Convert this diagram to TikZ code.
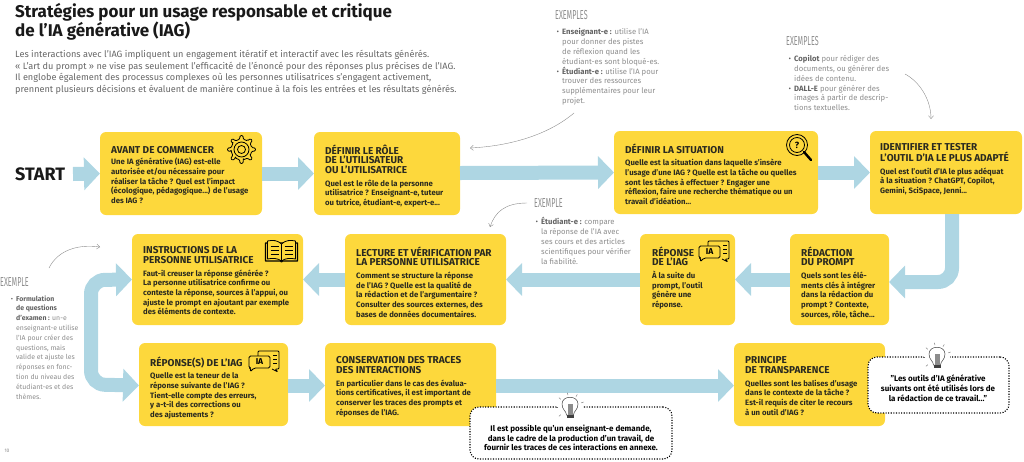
\documentclass[tikz,border=0pt]{standalone}
\usepackage{fontspec}
\setmainfont{Fira Sans}
\usetikzlibrary{arrows.meta}
\definecolor{stepyellow}{HTML}{FDD83C}
\definecolor{flowblue}{HTML}{AED6E3}
\definecolor{noteink}{HTML}{8C8C8C}
\definecolor{stepink}{HTML}{2A2A20}
\newcommand{\hd}[1]{{\fontsize{10}{9.7}\selectfont #1}}
\newcommand{\noteb}{\llap{\textcolor{noteink!70!black}{\textbullet}\hspace{3pt}}}
\newcommand{\notehd}[1]{\scalebox{.55}[1]{\fontsize{13}{13}\selectfont #1}}
\tikzset{
    stepbox/.style={fill=stepyellow, rounded corners=6pt, inner sep=0, outer sep=0},
    steptext/.style={anchor=north west, inner sep=0, align=left, text=stepink,
        font=\fontsize{7.75}{9.7}\selectfont\bfseries,
        execute at begin node={\rule{0pt}{7.4pt}}},
    flowline/.style={draw=flowblue, line width=14pt, rounded corners=14pt,
        -{Triangle[length=16pt,width=32pt]}},
    noteline/.style={draw=noteink, line width=.4pt, -{Straight Barb[length=3pt,width=5pt]}},
    notetext/.style={anchor=north west, inner sep=0, align=left, text=noteink,
        font=\fontsize{7.7}{9.8}\selectfont,
        execute at begin node={\rule{0pt}{7pt}}},
    calloutbox/.style={draw=black, fill=white, line width=1.1pt, dash pattern=on 1.1pt off 1.5pt,
        rounded corners=9pt, inner sep=0, outer sep=0},
    callouttext/.style={inner sep=0, align=center, text=black,
        font=\fontsize{8}{9.8}\selectfont\bfseries},
    iconline/.style={draw=black, line width=.8pt, line join=round},
    gearicon/.pic={
        \draw[iconline, rounded corners=1pt] (-10:10.5) \foreach \a in {0,45,...,315} {
            -- ({\a-10}:10.5) -- ({\a-6}:14) -- ({\a+6}:14) -- ({\a+10}:10.5) -- ({\a+35}:10.5)} -- cycle;
        \draw[iconline] (0,0) circle (7.5) (0,0) circle (4);
    },
    lensicon/.pic={
        \draw[line width=2.4pt, line cap=round] (7,7) -- (14,15);
        \draw[iconline] (0,0) circle (10.5) (0,0) circle (7.5);
        \node[inner sep=0, font=\fontsize{9}{9}\selectfont\bfseries] (-lensmark) at (0,0) {?};
    },
    bookicon/.pic={
        \draw[iconline, line width=1.3pt, fill=stepyellow] (-16,-8) -- (-16,10) -- (-1,10) -- (0,11) -- (1,10) -- (16,10) -- (16,-8) -- cycle;
        \draw[iconline, fill=stepyellow] (0,-7) .. controls (-4,-11) and (-9,-11) .. (-14,-10) -- (-14,8) .. controls (-9,7) and (-4,7) .. (0,10);
        \draw[iconline, fill=stepyellow] (0,-7) .. controls (4,-11) and (9,-11) .. (14,-10) -- (14,8) .. controls (9,7) and (4,7) .. (0,10) -- cycle;
        \foreach \y in {-5,-1,3} {
            \draw[line width=.6pt] (-11,\y) -- (-3,\y);
            \draw[line width=.6pt] (3,\y) -- (11,\y);
        }
    },
    chaticon/.pic={
        \draw[iconline, rounded corners=1pt] (-6,-5) -- (-6,-10) -- (15,-10) -- (15,8) -- (11,8) -- (14,11) -- (8,8);
        \foreach \y in {-6,-2,2} \draw[line width=.6pt] (9,\y) -- (13,\y);
        \draw[iconline, fill=stepyellow, rounded corners=1.5pt] (-15,-5) -- (6,-5) -- (6,7) -- (-10,7) -- (-14,11) -- (-13,7) -- (-15,7) -- cycle;
        \node[inner sep=0, font=\fontsize{8.5}{8.5}\selectfont\bfseries] (-chatmark) at (-4.5,1) {IA};
    },
    bulbicon/.pic={
        \fill[white] (0,0) circle (13);
        \draw[draw=black!75, line width=.5pt, fill=white] (-3.5,8) .. controls (-3.5,4) and (-8,3) .. (-8,-3) .. controls (-8,-12) and (8,-12) .. (8,-3) .. controls (8,3) and (3.5,4) .. (3.5,8) -- cycle;
        \fill[black!45] (-2.5,-3) rectangle (2.5,8);
        \fill[black!75] (-3.5,8) rectangle (3.5,11);
        \foreach \a in {-20,-60,-100,-140,-180,-220} \draw[draw=black!60, line width=.4pt] (\a:12) -- (\a:14.5);
    }
}

\begin{document}
\begin{tikzpicture}[x=1pt, y=-1pt]
\useasboundingbox (0,0) rectangle (1024,461);

\node[anchor=north west, inner sep=0, align=left, font=\fontsize{17}{19}\selectfont\bfseries, text=black!90] (pagetitle) at (15,3.5)
    {Stratégies pour un usage responsable et critique\\de l'IA générative (IAG)};
\node[anchor=north west, inner sep=0, align=left, font=\fontsize{9.15}{11.5}\selectfont, text=black!60] (pageintro) at (15,50)
    {Les interactions avec l'IAG impliquent un engagement itératif et interactif avec les résultats générés.\\
    « L'art du prompt » ne vise pas seulement l'efficacité de l'énoncé pour des réponses plus précises de l'IAG.\\
    Il englobe également des processus complexes où les personnes utilisatrices s'engagent activement,\\
    prennent plusieurs décisions et évaluent de manière continue à la fois les entrées et les résultats générés.};
\node[anchor=west, inner sep=0, font=\fontsize{18}{18}\selectfont\bfseries, text=black!90] (startlabel) at (15,174) {START};
\node[inner sep=0, font=\fontsize{5}{5}\selectfont, text=noteink] (pagenumber) at (7,451) {10};

\node[stepbox, minimum width=162pt, minimum height=83pt] (avant) at (181,173.5) {};
\node[stepbox, minimum width=146pt, minimum height=83pt] (role) at (387,173.5) {};
\node[stepbox, minimum width=204pt, minimum height=83pt] (situation) at (716,172.5) {};
\node[stepbox, minimum width=152pt, minimum height=83pt] (outil) at (946,172.5) {};
\node[stepbox, minimum width=171pt, minimum height=91pt] (instructions) at (217.5,279.5) {};
\node[stepbox, minimum width=161pt, minimum height=91pt] (lecture) at (425.5,279.5) {};
\node[stepbox, minimum width=95pt, minimum height=91pt] (reponse) at (687.5,279.5) {};
\node[stepbox, minimum width=99pt, minimum height=91pt] (redaction) at (839.5,279.5) {};
\node[stepbox, minimum width=149pt, minimum height=83pt] (reponses) at (213.5,384.5) {};
\node[stepbox, minimum width=171pt, minimum height=83pt] (conservation) at (410.5,384.5) {};
\node[stepbox, minimum width=151pt, minimum height=83pt] (principe) at (809.5,384.5) {};

\coordinate (startfoot) at (73,174);
\coordinate (loopleft) at (91,280);
\draw[flowline] (startfoot) -- (avant.west);
\draw[flowline] (avant.east) -- (role.west);
\draw[flowline] ([yshift=.5pt]role.east) -- (situation.west);
\draw[flowline] (situation.east) -- (outil.west);
\draw[flowline] ([xshift=6pt]outil.south) |- ([yshift=-2.5pt]redaction.east);
\draw[flowline] (redaction.west) -- (reponse.east);
\draw[flowline] (reponse.west) -- (lecture.east);
\draw[flowline] (lecture.west) -- (instructions.east);
\draw[flowline, {Triangle[length=16pt,width=32pt]}-{Triangle[length=16pt,width=32pt]}] (instructions.west) -- (loopleft) -- (loopleft |- reponses.west) -- ([yshift=-1pt]reponses.west);
\draw[flowline] ([yshift=-1pt]reponses.east) -- ([yshift=-1pt]conservation.west);
\draw[flowline] ([yshift=-1pt]conservation.east) -- ([yshift=-1pt]principe.west);

\node[steptext] (avanttext) at (111,145.8)
    {\hd{AVANT DE COMMENCER}\\[1.8pt]Une IA générative (IAG) est-elle\\autorisée et/ou nécessaire pour\\réaliser la tâche ? Quel est l'impact\\(écologique, pédagogique...) de l'usage\\des IAG ?};
\node[steptext] (roletext) at (325,144.3)
    {\hd{DÉFINIR LE RÔLE}\\\hd{DE L'UTILISATEUR}\\\hd{OU L'UTILISATRICE}\\[3pt]Quel est le rôle de la personne\\utilisatrice ? Enseignant-e, tuteur\\ou tutrice, étudiant-e, expert-e...};
\node[steptext] (situationtext) at (625,143.3)
    {\hd{DÉFINIR LA SITUATION}\\[3pt]Quelle est la situation dans laquelle s'insère\\l'usage d'une IAG ? Quelle est la tâche ou quelles\\sont les tâches à effectuer ? Engager une\\réflexion, faire une recherche thématique ou un\\travail d'idéation...};
\node[steptext] (outiltext) at (880,143.3)
    {\hd{IDENTIFIER ET TESTER}\\\hd{L'OUTIL D'IA LE PLUS ADAPTÉ}\\[3pt]Quel est l'outil d'IA le plus adéquat\\à la situation ? ChatGPT, Copilot,\\Gemini, SciSpace, Jenni...};
\node[steptext] (instructionstext) at (143,246.3)
    {\hd{INSTRUCTIONS DE LA}\\\hd{PERSONNE UTILISATRICE}\\[3pt]Faut-il creuser la réponse générée ?\\La personne utilisatrice confirme ou\\conteste la réponse, sources à l'appui, ou\\ajuste le prompt en ajoutant par exemple\\des éléments de contexte.};
\node[steptext] (lecturetext) at (356,246.3)
    {\hd{LECTURE ET VÉRIFICATION PAR}\\\hd{LA PERSONNE UTILISATRICE}\\[3pt]Comment se structure la réponse\\de l'IAG ? Quelle est la qualité de\\la rédaction et de l'argumentaire ?\\Consulter des sources externes, des\\bases de données documentaires.};
\node[steptext] (reponsetext) at (652,246.3)
    {\hd{RÉPONSE}\\\hd{DE L'IAG}\\[3pt]À la suite du\\prompt, l'outil\\génère une\\réponse.};
\node[steptext] (redactiontext) at (801,246.3)
    {\hd{RÉDACTION}\\\hd{DU PROMPT}\\[3pt]Quels sont les élé-\\ments clés à intégrer\\dans la rédaction du\\prompt ? Contexte,\\sources, rôle, tâche...};
\node[steptext] (reponsestext) at (150,356.3)
    {\hd{RÉPONSE(S) DE L'IAG}\\[3pt]Quelle est la teneur de la\\réponse suivante de l'IAG ?\\Tient-elle compte des erreurs,\\y a-t-il des corrections ou\\des ajustements ?};
\node[steptext] (conservationtext) at (336,356.3)
    {\hd{CONSERVATION DES TRACES}\\\hd{DES INTERACTIONS}\\[3pt]En particulier dans le cas des évalua-\\tions certificatives, il est important de\\conserver les traces des prompts et\\réponses de l'IAG.};
\node[steptext] (principetext) at (745,356.3)
    {\hd{PRINCIPE}\\\hd{DE TRANSPARENCE}\\[3pt]Quelles sont les balises d'usage\\dans le contexte de la tâche ?\\Est-il requis de citer le recours\\à un outil d'IAG ?};

\pic at (241.5,149.5) {gearicon};
\pic at (797,145) {lensicon};
\pic at (281.5,251) {bookicon};
\pic at (264,361) {chaticon};
\pic at (714,251) {chaticon};

\node[anchor=north west, inner sep=0, text=noteink] (noteheada) at (555,10) {\notehd{EXEMPLES}};
\node[notetext] (notea) at (562,28.5)
    {\noteb\textcolor{noteink!70!black}{\textbf{Enseignant-e :}} utilise l'IA\\pour donner des pistes\\de réflexion quand les\\étudiant-es sont bloqué-es.\\\noteb\textcolor{noteink!70!black}{\textbf{Étudiant-e :}} utilise l'IA pour\\trouver des ressources\\supplémentaires pour leur\\projet.};
\node[anchor=north west, inner sep=0, text=noteink] (noteheadb) at (786,36) {\notehd{EXEMPLES}};
\node[notetext] (noteb) at (794,55.3)
    {\noteb\textcolor{noteink!70!black}{\textbf{Copilot}} pour rédiger des\\documents, ou générer des\\idées de contenu.\\\noteb\textcolor{noteink!70!black}{\textbf{DALL-E}} pour générer des\\images à partir de descrip-\\tions textuelles.};
\node[anchor=north west, inner sep=0, text=noteink] (noteheadc) at (534,198) {\notehd{EXEMPLE}};
\node[notetext] (notec) at (541,217.3)
    {\noteb\textcolor{noteink!70!black}{\textbf{Étudiant-e :}} compare\\la réponse de l'IA avec\\ses cours et des articles\\scientifiques pour vérifier\\la fiabilité.};
\node[anchor=north west, inner sep=0, text=noteink] (noteheadd) at (0,277) {\notehd{EXEMPLE}};
\node[notetext, font=\fontsize{6.9}{9.8}\selectfont] (noted) at (16,295.3)
    {\noteb\textcolor{noteink!70!black}{\textbf{Formulation}}\\\textcolor{noteink!70!black}{\textbf{de questions}}\\\textcolor{noteink!70!black}{\textbf{d'examen :}} un-e\\enseignant-e utilise\\l'IA pour créer des\\questions, mais\\valide et ajuste les\\réponses en fonc-\\tion du niveau des\\étudiant-es et des\\thèmes.};

\coordinate (hintafrom) at (574,113);
\coordinate (hintato) at (470,148);
\coordinate (hintbfrom) at (905,74);
\coordinate (hintbto) at (931,119);
\coordinate (hintcfrom) at (527,203);
\coordinate (hintcto) at (490,227);
\coordinate (hintdfrom) at (49,268);
\coordinate (hintdto) at (100,247);
\draw[noteline] (hintafrom) .. controls (548,135) and (510,146) .. (hintato);
\draw[noteline] (hintbfrom) .. controls (920,82) and (931,100) .. (hintbto);
\draw[noteline] (hintcfrom) .. controls (505,203) and (495,212) .. (hintcto);
\draw[noteline] (hintdfrom) .. controls (58,250) and (78,244) .. (hintdto);

\node[calloutbox, minimum width=202pt, minimum height=52pt] (calloutleft) at (571,433) {};
\node[calloutbox, minimum width=141pt, minimum height=56pt] (calloutright) at (938.5,385) {};
\node[callouttext] (calloutlefttext) at (571,438)
    {Il est possible qu'un enseignant-e demande,\\dans le cadre de la production d'un travail, de\\fournir les traces de ces interactions en annexe.};
\node[callouttext] (calloutrighttext) at (938,388)
    {"Les outils d'IA générative\\suivants ont été utilisés lors de\\la rédaction de ce travail..."};
\pic at (570,407) {bulbicon};
\pic at (937,357) {bulbicon};
\end{tikzpicture}
\end{document}
